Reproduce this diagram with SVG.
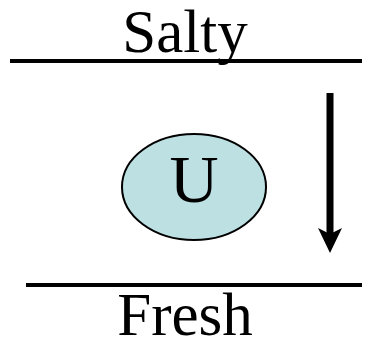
<svg xmlns="http://www.w3.org/2000/svg" width="368" height="347" viewBox="0 0 368 347">
<style>
.lbl{font-family:"Liberation Serif","Times New Roman",serif;fill:#000;text-anchor:middle}
.rule{stroke:#000;stroke-width:4}
</style>
<rect width="368" height="347" fill="#fff"/>
<g id="salty"><text class="lbl" x="185" y="52" font-size="61">Salty</text></g>
<g id="top-line"><line class="rule" x1="10" y1="61" x2="362" y2="61"/></g>
<g id="node-u">
<ellipse cx="194" cy="187" rx="72" ry="53" fill="#bde0e3" stroke="#000" stroke-width="2"/>
<text class="lbl" x="194" y="202" font-size="68">U</text>
</g>
<g id="connectors">
<line x1="330" y1="93" x2="330" y2="236" stroke="#000" stroke-width="7"/>
<path d="M318,228 L330,234 L342,228 L330,253 Z" fill="#000"/>
</g>
<g id="bottom-line"><line class="rule" x1="26" y1="285" x2="362" y2="285"/></g>
<g id="fresh"><text class="lbl" x="185" y="335" font-size="61">Fresh</text></g>
</svg>
